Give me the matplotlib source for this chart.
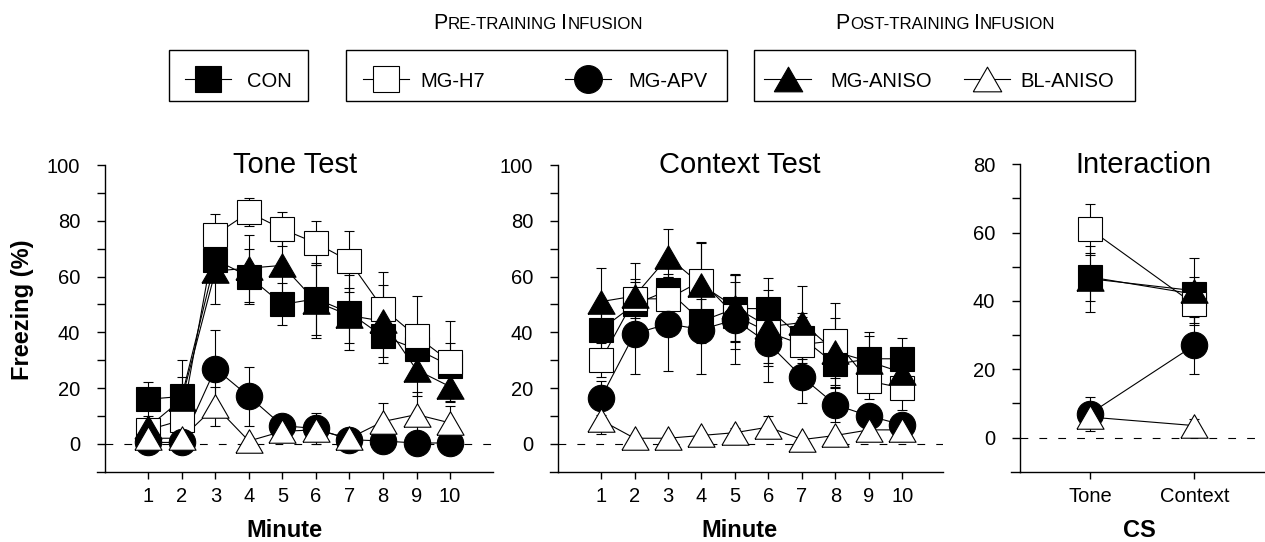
import matplotlib
matplotlib.use('Agg')
import matplotlib.pyplot as plt
from matplotlib.lines import Line2D
from matplotlib.patches import Rectangle

plt.rcParams['font.family'] = ['Liberation Sans', 'DejaVu Sans']

# ---------------- data ----------------
minutes = [1, 2, 3, 4, 5, 6, 7, 8, 9, 10]
group_names = ['CON', 'MG-H7', 'MG-APV', 'MG-ANISO', 'BL-ANISO']

tone_con = [16, 17, 66, 60, 50, 52, 47, 38.5, 34, 28]
tone_con_sem = [6, 13, 8, 10, 7.5, 13, 13.5, 9.5, 8, 8]
tone_h7 = [5, 8.5, 75, 83, 77, 72, 65.5, 48.5, 38.5, 29.5]
tone_h7_sem = [3, 5, 7.5, 5, 6, 8, 11, 13, 14.5, 14.5]
tone_apv = [0.5, 0.5, 27, 17, 6.5, 5.5, 1.5, 1, 0.3, 0.3]
tone_apv_sem = [1, 1, 14, 10.5, 2, 5.7, 1, 1, 0.5, 0.5]
tone_aniso = [6, 16, 62, 63, 64, 51, 46, 44, 26.5, 20.5]
tone_aniso_sem = [3, 8, 12, 12, 13, 13, 10, 13, 9.5, 5]
tone_bl = [2, 2, 13.5, 1, 4.5, 5, 2, 8, 10.5, 7.5]
tone_bl_sem = [2, 1, 7, 1, 1.5, 2, 1, 6.5, 8, 6]

ctx_con = [41, 50, 55, 44, 48.5, 48.5, 38, 28.5, 30.5, 30.5]
ctx_con_sem = [8, 8, 6, 8, 12, 11, 9, 8, 9.5, 7.5]
ctx_h7 = [30, 52, 52, 58.5, 46, 40, 35.6, 37, 22.5, 20]
ctx_h7_sem = [6, 7, 8, 14, 12, 12, 10, 13.5, 6.5, 8]
ctx_apv = [16.5, 39.5, 43, 41, 44.5, 36, 24, 14, 10, 6.8]
ctx_apv_sem = [6, 14.5, 17, 16, 16, 14, 9.5, 6, 4, 4]
ctx_aniso = [51, 53, 67, 57, 49, 42, 43.5, 33, 29.5, 25.5]
ctx_aniso_sem = [12, 12, 10, 15, 12, 13, 13, 12, 9, 8]
ctx_bl = [8.5, 2, 2, 3, 4, 6, 1.5, 3, 5, 5]
ctx_bl_sem = [5, 1, 1, 1, 1.5, 4, 1, 1, 1.5, 4]

cs_labels = ['Tone', 'Context']
int_con = [47, 42]
int_con_sem = [7, 5]
int_h7 = [61, 39]
int_h7_sem = [7.5, 6]
int_apv = [7, 27]
int_apv_sem = [5, 8.4]
int_aniso = [46.5, 43]
int_aniso_sem = [9.6, 9.6]
int_bl = [6, 3.5]
int_bl_sem = [3, 2]

# ---------------- styles ----------------
TRI = [(-1, -0.866), (1, -0.866), (0, 0.866), (-1, -0.866)]
styles = {
    'CON':      dict(marker='s', ms=17.5, mfc='black'),
    'MG-H7':    dict(marker='s', ms=17.5, mfc='white'),
    'MG-APV':   dict(marker='o', ms=19, mfc='black'),
    'MG-ANISO': dict(marker=TRI, ms=19.5, mfc='black'),
    'BL-ANISO': dict(marker=TRI, ms=19.5, mfc='white'),
}

W, H = 1265, 542
fig = plt.figure(figsize=(W / 100, H / 100), dpi=100)


def px_axes(left, right, top, bottom):
    return fig.add_axes([left / W, 1 - bottom / H, (right - left) / W, (bottom - top) / H])


def fig_line(x0, x1, y0, y1, **kw):
    fig.add_artist(Line2D([x0 / W, x1 / W], [1 - y0 / H, 1 - y1 / H],
                          transform=fig.transFigure, **kw))


def draw_series(ax, x, series):
    for i, (name, y, e) in enumerate(series):
        st = styles[name]
        ax.plot(x, y, color='black', lw=0.8, zorder=2)
        ax.errorbar(x, y, yerr=e, fmt='none', ecolor='black', elinewidth=0.8,
                    capsize=3.5, capthick=0.8, zorder=2)
        ax.plot(x, y, ls='none', marker=st['marker'], ms=st['ms'],
                mfc=st['mfc'], mec='black', mew=0.8, zorder=3 + i, clip_on=False)


def style_axes(ax, ymax, ytop_major):
    for s in ['top', 'right']:
        ax.spines[s].set_visible(False)
    for s in ['left', 'bottom']:
        ax.spines[s].set_linewidth(1.0)
    ax.set_ylim(-10, ymax)
    ax.set_yticks(list(range(0, ytop_major + 1, 20)))
    ax.set_yticks(list(range(10, ymax, 20)), minor=True)
    ax.tick_params(axis='y', which='both', direction='out', length=6, width=1.0,
                   labelsize=14.5, pad=12)
    ax.tick_params(axis='x', which='both', direction='out', length=5, width=1.0,
                   labelsize=14.5, pad=6)
    ax.axhline(0, color='black', lw=0.8, dashes=(7, 10), zorder=1)


# ---------------- Tone Test ----------------
ax1 = px_axes(105, 493, 165, 471.7)
draw_series(ax1, minutes, [
    ('CON', tone_con, tone_con_sem),
    ('MG-H7', tone_h7, tone_h7_sem),
    ('MG-ANISO', tone_aniso, tone_aniso_sem),
    ('MG-APV', tone_apv, tone_apv_sem),
    ('BL-ANISO', tone_bl, tone_bl_sem),
])
style_axes(ax1, 100, 100)
ax1.set_xlim(-0.292, 11.28)
ax1.set_xticks(minutes)
fig_line(97, 105, 471.7, 471.7, color='black', lw=1.0)

# ---------------- Context Test ----------------
ax2 = px_axes(558.3, 943, 165, 471.7)
draw_series(ax2, minutes, [
    ('CON', ctx_con, ctx_con_sem),
    ('MG-H7', ctx_h7, ctx_h7_sem),
    ('MG-ANISO', ctx_aniso, ctx_aniso_sem),
    ('MG-APV', ctx_apv, ctx_apv_sem),
    ('BL-ANISO', ctx_bl, ctx_bl_sem),
])
style_axes(ax2, 100, 100)
ax2.set_xlim(-0.275, 11.21)
ax2.set_xticks(minutes)
fig_line(550, 558.3, 471.7, 471.7, color='black', lw=1.0)

# ---------------- Interaction ----------------
ax3 = px_axes(1020, 1265, 164.3, 471.7)
draw_series(ax3, [0, 1], [
    ('CON', int_con, int_con_sem),
    ('MG-H7', int_h7, int_h7_sem),
    ('MG-ANISO', int_aniso, int_aniso_sem),
    ('MG-APV', int_apv, int_apv_sem),
    ('BL-ANISO', int_bl, int_bl_sem),
])
style_axes(ax3, 80, 80)
ax3.set_xlim(-0.671, 1.678)
ax3.set_xticks([0, 1])
ax3.set_xticklabels(cs_labels)
fig_line(1011, 1020, 471.7, 471.7, color='black', lw=1.0)

# titles and axis labels
for xc, txt in [(295, 'Tone Test'), (740, 'Context Test'), (1143, 'Interaction')]:
    fig.text(xc / W, 1 - 173 / H, txt, ha='center', va='baseline', fontsize=21)
for xc, txt in [(284, 'Minute'), (739, 'Minute'), (1139, 'CS')]:
    fig.text(xc / W, 1 - 537 / H, txt, ha='center', va='baseline', fontsize=17,
             fontweight='bold')
fig.text(23 / W, 1 - 310 / H, 'Freezing (%)', rotation=90, ha='center', va='center',
         fontsize=17, fontweight='bold')

# ---------------- legend ----------------
for (l, r) in [(169, 308), (346, 727), (754, 1135)]:
    fig.add_artist(Rectangle((l / W, 1 - 101 / H), (r - l) / W, 51 / H,
                             transform=fig.transFigure, fill=False, ec='black', lw=1.0))

legend_items = [('CON', 208, 246.7), ('MG-H7', 386, 420), ('MG-APV', 588, 628.3),
                ('MG-ANISO', 787.5, 830), ('BL-ANISO', 987, 1020)]
for name, mx, tx in legend_items:
    st = styles[name]
    fig.add_artist(Line2D([(mx - 23) / W, (mx + 23) / W], [1 - 79 / H, 1 - 79 / H],
                          transform=fig.transFigure, color='black', lw=0.8))
    fig.add_artist(Line2D([mx / W], [1 - 79 / H], transform=fig.transFigure, ls='none',
                          marker=st['marker'], ms=st['ms'] + 1, mfc=st['mfc'],
                          mec='black', mew=0.8))
    fig.text(tx / W, 1 - 86.7 / H, name, ha='left', va='baseline', fontsize=14.5)


def smallcaps(xc, yb, words, big=15.5, small=12.2):
    r = fig.canvas.get_renderer()
    pieces = []
    for wi, w in enumerate(words):
        pieces.append((w[0], big, 0))
        gap = 0.278 * small * 100 / 72 if wi < len(words) - 1 else 0
        pieces.append((w[1:].upper(), small, gap))
    arts = []
    total = 0
    for s, fs, gap in pieces:
        t = fig.text(0, 1 - yb / H, s, fontsize=fs, ha='left', va='baseline')
        wpx = t.get_window_extent(r).width
        arts.append((t, wpx, gap))
        total += wpx + gap
    x = xc - total / 2
    for t, wpx, gap in arts:
        t.set_x(x / W)
        x += wpx + gap


smallcaps(538, 29.3, ['Pre-training', 'Infusion'])
smallcaps(945.5, 29.3, ['Post-training', 'Infusion'])

fig.savefig('out.png', dpi=100)
